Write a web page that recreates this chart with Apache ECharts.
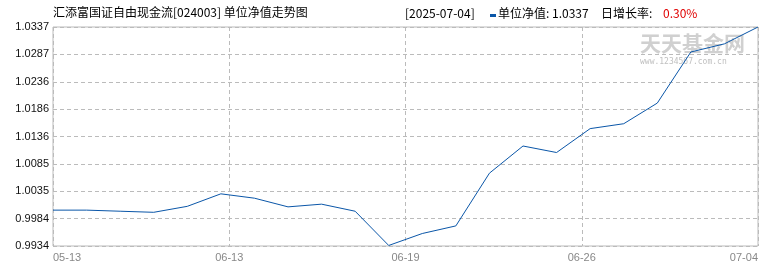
<!DOCTYPE html>
<html>
<head>
<meta charset="utf-8">
<script src="https://cdn.jsdelivr.net/npm/echarts@6/dist/echarts.min.js"></script>
<style>html,body{margin:0;padding:0;background:#fff}#c{width:770px;height:270px}</style>
</head>
<body>
<div id="c"></div>
<script>
// ---- data ----
const titleText = '汇添富国证自由现金流[024003] 单位净值走势图';
const latestDate = '[2025-07-04]';
const latestNav = '1.0337';
const latestChange = '0.30%';
const navValues = [1.0000, 1.0000, 0.9998, 0.9996, 1.0007, 1.0030, 1.0022, 1.0006, 1.0011, 0.9998,
                   0.9935, 0.9957, 0.9971, 1.0068, 1.0118, 1.0106, 1.0150, 1.0159, 1.0197, 1.0291,
                   1.0306, 1.0337];
const xTickLabels = ['05-13', '06-13', '06-19', '06-26', '07-04'];
const yMin = 0.9934, yMax = 1.0337, ySplits = 8;
const yTickValues = [];
for (let i = 0; i <= ySplits; i++) yTickValues.push(yMin + (yMax - yMin) * i / ySplits);

const chart = echarts.init(document.getElementById('c'), null, {renderer: 'canvas'});
const lastIdx = navValues.length - 1;
const xStep = lastIdx / (xTickLabels.length - 1);
const seriesData = navValues.map((v, i) => [i, v]);
const mono = 'Liberation Sans';
chart.setOption({
  animation: false,
  backgroundColor: '#fff',
  grid: {left: 53, right: 12, top: 27, bottom: 24, show: true, borderColor: '#bbb', borderWidth: 1},
  xAxis: {
    type: 'value', min: 0, max: lastIdx, interval: xStep,
    axisLine: {show: false}, axisTick: {show: false},
    splitLine: {show: true, lineStyle: {color: '#bbb', type: [4, 3], width: 1}},
    axisLabel: {
      margin: 6, color: '#888', fontSize: 11, fontFamily: mono,
      alignMinLabel: 'left', alignMaxLabel: 'right',
      formatter: v => xTickLabels[Math.round(v / xStep)] || ''
    }
  },
  yAxis: {
    type: 'value', min: yMin, max: yMax,
    axisLine: {show: false},
    axisTick: {show: false, customValues: yTickValues},
    splitLine: {show: true, lineStyle: {color: '#bbb', type: [4, 3], width: 1}},
    axisLabel: {
      customValues: yTickValues, margin: 4, color: '#111', fontSize: 11, fontFamily: mono,
      formatter: v => (v + 1e-9).toFixed(4)
    }
  },
  series: [{
    type: 'line', data: seriesData, symbol: 'none',
    lineStyle: {color: '#0a56a8', width: 1}
  }],
  graphic: [
    {type: 'text', left: 53, top: 6, style: {text: titleText, fill: '#000', font: '12px "Noto Sans CJK SC"'}},
    {type: 'text', left: 405, top: 7, style: {text: latestDate, fill: '#000', font: '12px "Noto Sans CJK SC"'}},
    {type: 'rect', shape: {x: 490, y: 14, width: 6, height: 3}, style: {fill: '#0a56a8'}},
    {type: 'text', left: 498, top: 7, style: {text: '单位净值: ' + latestNav, fill: '#000', font: '12px "Noto Sans CJK SC"'}},
    {type: 'text', left: 601, top: 7, style: {text: '日增长率:', fill: '#000', font: '12px "Noto Sans CJK SC"'}},
    {type: 'text', left: 663, top: 7, style: {text: latestChange, fill: '#e00000', font: '12px "Noto Sans CJK SC"'}},
    {type: 'text', left: 640, top: 33, z: -1, style: {text: '天天基金网', fill: '#d0d0d0', font: 'bold 21px "Noto Sans CJK SC"'}},
    {type: 'text', left: 640, top: 58, z: -1, style: {text: 'www.1234567.com.cn', fill: '#c0c0c0', font: '8px "DejaVu Sans Mono"'}}
  ]
});
</script>
</body>
</html>
